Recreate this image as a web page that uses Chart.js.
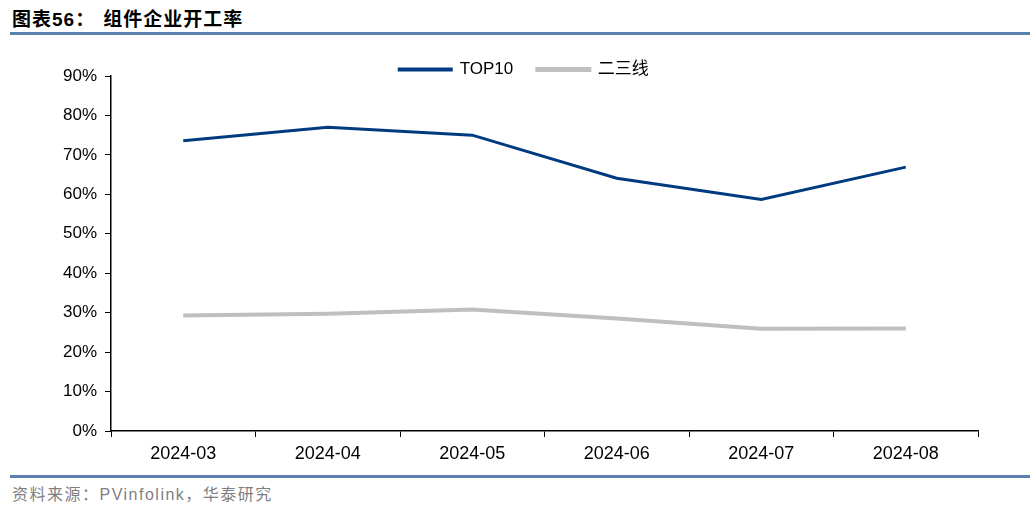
<!DOCTYPE html>
<html>
<head>
<meta charset="utf-8">
<script src="https://cdn.jsdelivr.net/npm/chart.js@4.4.0/dist/chart.umd.min.js"></script>
<style>
  body { margin: 0; background: #fff; width: 1036px; height: 514px; position: relative; overflow: hidden; }
  #title { position: absolute; left: 12px; top: 4px; font: bold 19px "Liberation Sans", "Noto Sans CJK SC", sans-serif; color: #000; letter-spacing: 1px; }
  .rule { position: absolute; left: 10px; width: 1020px; height: 3px; background: #5b7fae; }
  #source { position: absolute; left: 12px; top: 481px; font: 16px "Liberation Sans", "Noto Sans CJK SC", sans-serif; color: #7f7f7f; letter-spacing: 1.5px; }
  #wrap { position: absolute; left: 0; top: 0; width: 1036px; height: 514px; }
</style>
</head>
<body>
<div id="title">图表56：<span style="margin-left:8px">组件企业开工率</span></div>
<div class="rule" style="top:32px"></div>
<div class="rule" style="top:475px"></div>
<div id="source">资料来源：PVinfolink，华泰研究</div>
<div id="wrap"><canvas id="chart"></canvas></div>
<script>
const months = ["2024-03", "2024-04", "2024-05", "2024-06", "2024-07", "2024-08"];
const top10 = [0.736, 0.770, 0.750, 0.641, 0.587, 0.669];
const tier23 = [0.293, 0.297, 0.308, 0.285, 0.259, 0.260];

const fontFamily = '"Liberation Sans", Arial, "Noto Sans CJK SC", sans-serif';

// move the legend down / right so it sits like the original
const legendShift = {
    id: "legendShift",
    afterLayout(chart) {
        const lg = chart.legend;
        if (!lg) return;
        lg.top += 12;
        lg.bottom += 12;
        lg.left += 35;
        lg.right += 35;
    }
};

new Chart(document.getElementById("chart"), {
    type: "line",
    data: {
        labels: months,
        datasets: [
            {
                label: "TOP10",
                data: top10,
                borderColor: "#003b7f",
                backgroundColor: "#003b7f",
                borderWidth: 3,
                pointRadius: 0,
                tension: 0
            },
            {
                label: "二三线",
                data: tier23,
                borderColor: "#bfbfbf",
                backgroundColor: "#bfbfbf",
                borderWidth: 4,
                pointRadius: 0,
                tension: 0
            }
        ]
    },
    plugins: [legendShift],
    options: {
        responsive: true,
        maintainAspectRatio: false,
        animation: false,
        layout: {
            padding: {left: 0, right: 58, top: 25, bottom: 0}
        },
        plugins: {
            tooltip: {enabled: false},
            legend: {
                position: "top",
                labels: {
                    boxWidth: 52,
                    boxHeight: 1,
                    padding: 24,
                    color: "#000",
                    font: {family: fontFamily, size: 17}
                }
            }
        },
        scales: {
            x: {
                offset: true,
                afterFit: (scale) => { scale.height = 83; },
                grid: {
                    offset: true,
                    drawOnChartArea: false,
                    drawTicks: true,
                    tickLength: 6,
                    color: "#000",
                    lineWidth: 1
                },
                border: {color: "#000", width: 1.5},
                ticks: {
                    color: "#000",
                    padding: 6,
                    maxRotation: 0,
                    font: {family: fontFamily, size: 18}
                }
            },
            y: {
                min: 0,
                max: 0.9,
                afterFit: (scale) => { scale.width = 111; },
                grid: {
                    drawOnChartArea: false,
                    drawTicks: true,
                    tickLength: 6,
                    color: "#000",
                    lineWidth: 1
                },
                border: {color: "#000", width: 1.5},
                ticks: {
                    stepSize: 0.1,
                    color: "#000",
                    padding: 8,
                    font: {family: fontFamily, size: 17},
                    callback: (v) => Math.round(v * 100) + "%"
                }
            }
        }
    }
});
</script>
</body>
</html>
